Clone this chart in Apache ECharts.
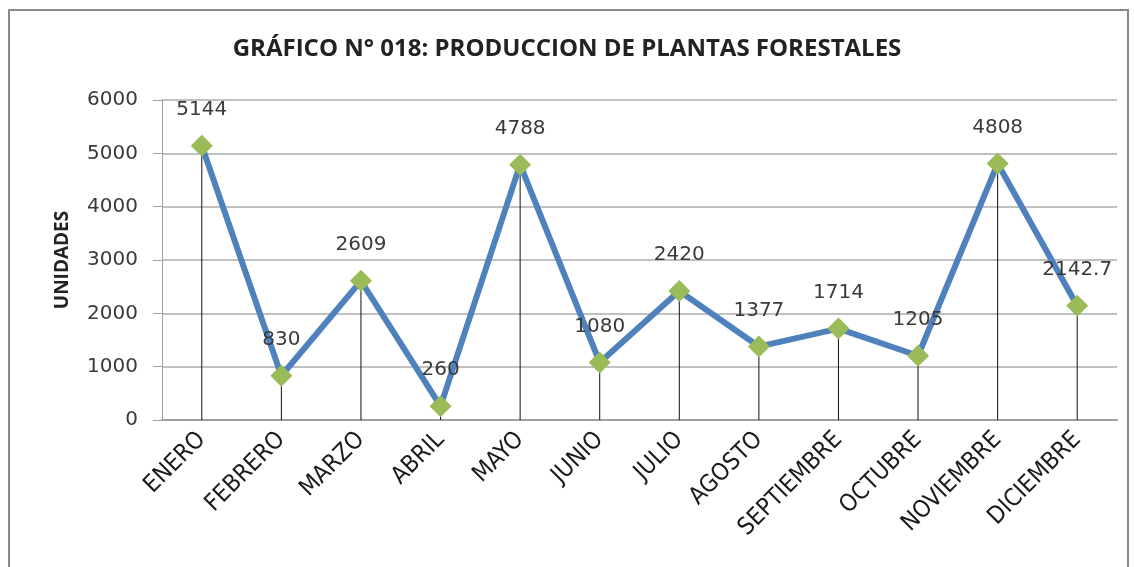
<!DOCTYPE html>
<html>
<head>
<meta charset="utf-8">
<script src="https://cdn.jsdelivr.net/npm/echarts@6/dist/echarts.min.js"></script>
<style>
  html, body { margin: 0; padding: 0; background: #fff; }
  #chart { width: 1134px; height: 567px; }
</style>
</head>
<body>
<div id="chart"></div>
<script>
const titleText = 'GRÁFICO N° 018: PRODUCCION DE PLANTAS FORESTALES';
const yAxisName = 'UNIDADES';
const months = ['ENERO', 'FEBRERO', 'MARZO', 'ABRIL', 'MAYO', 'JUNIO', 'JULIO', 'AGOSTO', 'SEPTIEMBRE', 'OCTUBRE', 'NOVIEMBRE', 'DICIEMBRE'];
const production = [5144, 830, 2609, 260, 4788, 1080, 2420, 1377, 1714, 1205, 4808, 2142.7];
const yTicks = [0, 1000, 2000, 3000, 4000, 5000, 6000];

const chart = echarts.init(document.getElementById('chart'), null, { renderer: 'canvas' });
const numFont = "'DejaVu Sans', sans-serif";
const condFont = "'Liberation Sans Narrow', 'DejaVu Sans Condensed', sans-serif";

chart.setOption({
  animation: false,
  backgroundColor: '#ffffff',
  title: {
    text: titleText,
    left: 'center',
    top: 32,
    textStyle: { fontFamily: "'Open Sans', sans-serif", fontWeight: 'bold', fontSize: 24, color: '#222' }
  },
  graphic: [{
    type: 'rect',
    shape: { x: 9, y: 10, width: 1119, height: 600 },
    style: { fill: 'none', stroke: '#8a8a8a', lineWidth: 2 },
    silent: true,
    z: -10
  }],
  grid: { left: 162, right: 17, top: 100, bottom: 147, containLabel: false },
  xAxis: {
    type: 'category',
    data: months,
    boundaryGap: true,
    axisLine: { show: true, lineStyle: { color: '#a0a0a0', width: 2 } },
    axisTick: { show: false },
    axisLabel: { rotate: 45, margin: 16, interval: 0, fontFamily: condFont, fontSize: 24, color: '#1a1a1a' }
  },
  yAxis: {
    type: 'value',
    min: yTicks[0],
    max: yTicks[yTicks.length - 1],
    interval: 1000,
    name: yAxisName,
    nameLocation: 'middle',
    nameGap: 90,
    nameTextStyle: { fontFamily: "'Open Sans', sans-serif", fontWeight: 'bold', fontSize: 19, color: '#222' },
    axisLine: { show: true, lineStyle: { color: '#a0a0a0', width: 1 } },
    axisTick: { show: true, length: 9, lineStyle: { color: '#a0a0a0' } },
    axisLabel: { margin: 24, fontFamily: numFont, fontSize: 20, color: '#3a3a3a', formatter: function (v) { return String(v); } },
    splitLine: { show: true, lineStyle: { color: '#c0c0c0', width: 2 } }
  },
  series: [
    {
      type: 'bar',
      data: production,
      barWidth: 1,
      itemStyle: { color: '#111' },
      silent: true,
      z: 1
    },
    {
      type: 'line',
      data: production,
      z: 3,
      lineStyle: { color: '#4F81BD', width: 6 },
      symbol: 'diamond',
      symbolSize: 22,
      itemStyle: { color: '#9BBB59' },
      label: {
        show: true,
        position: 'top',
        distance: 15,
        fontFamily: numFont,
        fontSize: 20,
        color: '#3a3a3a'
      }
    }
  ]
});
</script>
</body>
</html>
